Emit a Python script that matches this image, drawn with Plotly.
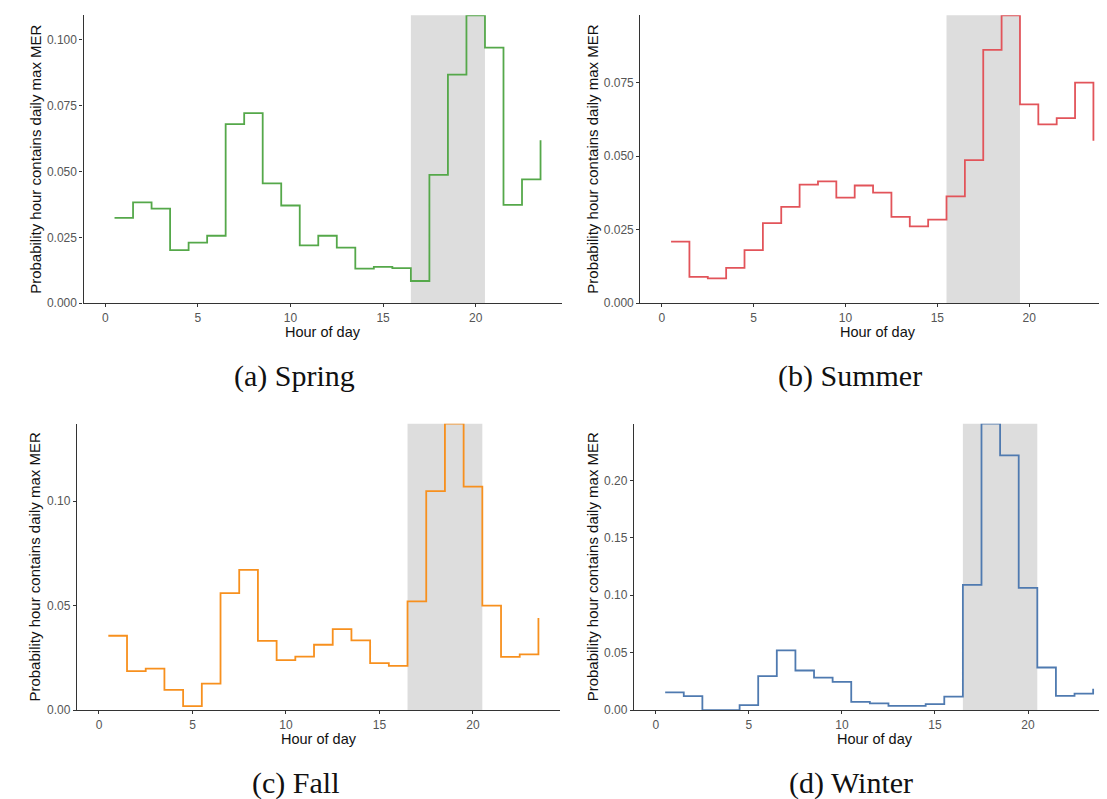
import plotly.graph_objects as go

# ---------------- data ----------------
hours = list(range(24))
spring = [0.0324, 0.0383, 0.0359, 0.0201, 0.0230, 0.0256, 0.0680, 0.0722, 0.0455, 0.0371,
          0.0219, 0.0256, 0.0211, 0.0131, 0.0138, 0.0133, 0.0084, 0.0487, 0.0868, 0.1094,
          0.0971, 0.0373, 0.0470, 0.0619]
summer = [0.0209, 0.0089, 0.0084, 0.0120, 0.0180, 0.0272, 0.0327, 0.0403, 0.0414, 0.0359,
          0.0400, 0.0376, 0.0293, 0.0261, 0.0284, 0.0363, 0.0486, 0.0861, 0.0979, 0.0676,
          0.0608, 0.0629, 0.0750, 0.0552]
fall = [0.0356, 0.0187, 0.0199, 0.0097, 0.0019, 0.0127, 0.0560, 0.0672, 0.0332, 0.0239,
        0.0256, 0.0313, 0.0388, 0.0334, 0.0225, 0.0212, 0.0521, 0.1049, 0.1372, 0.1070,
        0.0500, 0.0255, 0.0267, 0.0441]
winter = [0.0155, 0.0121, 0.0000, 0.0000, 0.0043, 0.0296, 0.0521, 0.0345, 0.0282, 0.0245,
          0.0072, 0.0058, 0.0037, 0.0037, 0.0052, 0.0118, 0.1091, 0.2495, 0.2219, 0.1065,
          0.0371, 0.0124, 0.0144, 0.0187]
captions = ["(a) Spring", "(b) Summer", "(c) Fall", "(d) Winter"]
peak_first = [17, 16, 17, 17]   # first peak hour
peak_last = [20, 19, 20, 20]    # last peak hour
y_ticks = [[0, 0.025, 0.05, 0.075, 0.1], [0, 0.025, 0.05, 0.075],
           [0, 0.05, 0.1], [0, 0.05, 0.1, 0.15, 0.2]]
y_fmt = [".3f", ".3f", ".2f", ".2f"]
x_ticks = [0, 5, 10, 15, 20]
x_title = "Hour of day"
y_title = "Probability hour contains daily max MER"

series = [spring, summer, fall, winter]
colors = ["#55A84A", "#E2545A", "#F7901E", "#4F7AB0"]

# ---------------- layout (pixels) ----------------
W, H = 1107, 799
# (left, right, top, bottom) of each plot area in pixels
boxes = [(75.5, 554.3, 7.3, 297.7), (632.3, 1107, 7.3, 297.7),
         (69.0, 552.4, 419.3, 708.3), (626.0, 1107, 419.3, 708.3)]
ytitle_x = [26.7, 584.5, 26.7, 584.5]
xtitle_y = [326.5, 326.5, 737.5, 737.5]
cap_pos = [(286, 371), (842, 371), (287, 782), (843, 782)]

def px(x):
    return x / W

def py(y):
    return 1 - y / H

fig = go.Figure()
layout = dict(width=W, height=H, autosize=False,
              margin=dict(l=0, r=0, t=0, b=0),
              paper_bgcolor="white", plot_bgcolor="white",
              showlegend=False, shapes=[], annotations=[])

font_sans = "Liberation Sans, Arial, sans-serif"
for i, vals in enumerate(series):
    n = "" if i == 0 else str(i + 1)
    xa, ya = "x" + n, "y" + n
    l, r, t, b = boxes[i]
    xs = [h + 0.5 for h in hours]
    fig.add_trace(go.Scatter(x=xs, y=vals, mode="lines", line_shape="hv",
                             line=dict(color=colors[i], width=1.8),
                             xaxis=xa, yaxis=ya, hoverinfo="skip"))
    axis_common = dict(showgrid=False, zeroline=False, showline=True,
                       linecolor="#333333", linewidth=1.3,
                       ticks="outside", ticklen=3, tickwidth=1, tickcolor="#333333",
                       tickfont=dict(family=font_sans, size=12, color="#555555"))
    layout["xaxis" + n] = dict(domain=[px(l), px(r)], anchor=ya,
                               range=[-1.175, 24.675], tickvals=x_ticks,
                               **axis_common)
    ymax = max(vals)
    layout["yaxis" + n] = dict(domain=[py(b), py(t)], anchor=xa,
                               range=[0, ymax], tickvals=y_ticks[i],
                               tickformat=y_fmt[i], **axis_common)
    layout["shapes"].append(dict(type="rect", xref=xa, yref=ya + " domain",
                                 x0=peak_first[i] - 0.5, x1=peak_last[i] + 0.5,
                                 y0=0, y1=1, fillcolor="#DDDDDD",
                                 line=dict(width=0), layer="below"))
    layout["annotations"].append(dict(text=y_title, textangle=-90, showarrow=False,
                                      xref="paper", yref="paper",
                                      x=px(ytitle_x[i]), y=py((t + b) / 2),
                                      xanchor="center", yanchor="middle",
                                      font=dict(family=font_sans, size=15, color="#111111")))
    layout["annotations"].append(dict(text=x_title, showarrow=False,
                                      xref="paper", yref="paper",
                                      x=px((l + r) / 2), y=py(xtitle_y[i]),
                                      xanchor="center", yanchor="middle",
                                      font=dict(family=font_sans, size=14.5, color="#111111")))
    cx, cy = cap_pos[i]
    layout["annotations"].append(dict(text=captions[i], showarrow=False,
                                      xref="paper", yref="paper",
                                      x=px(cx), y=py(cy),
                                      xanchor="center", yanchor="middle",
                                      font=dict(family="Liberation Serif, DejaVu Serif, serif",
                                                size=30, color="#111111")))

fig.update_layout(**layout)
fig.write_html("out.html")
